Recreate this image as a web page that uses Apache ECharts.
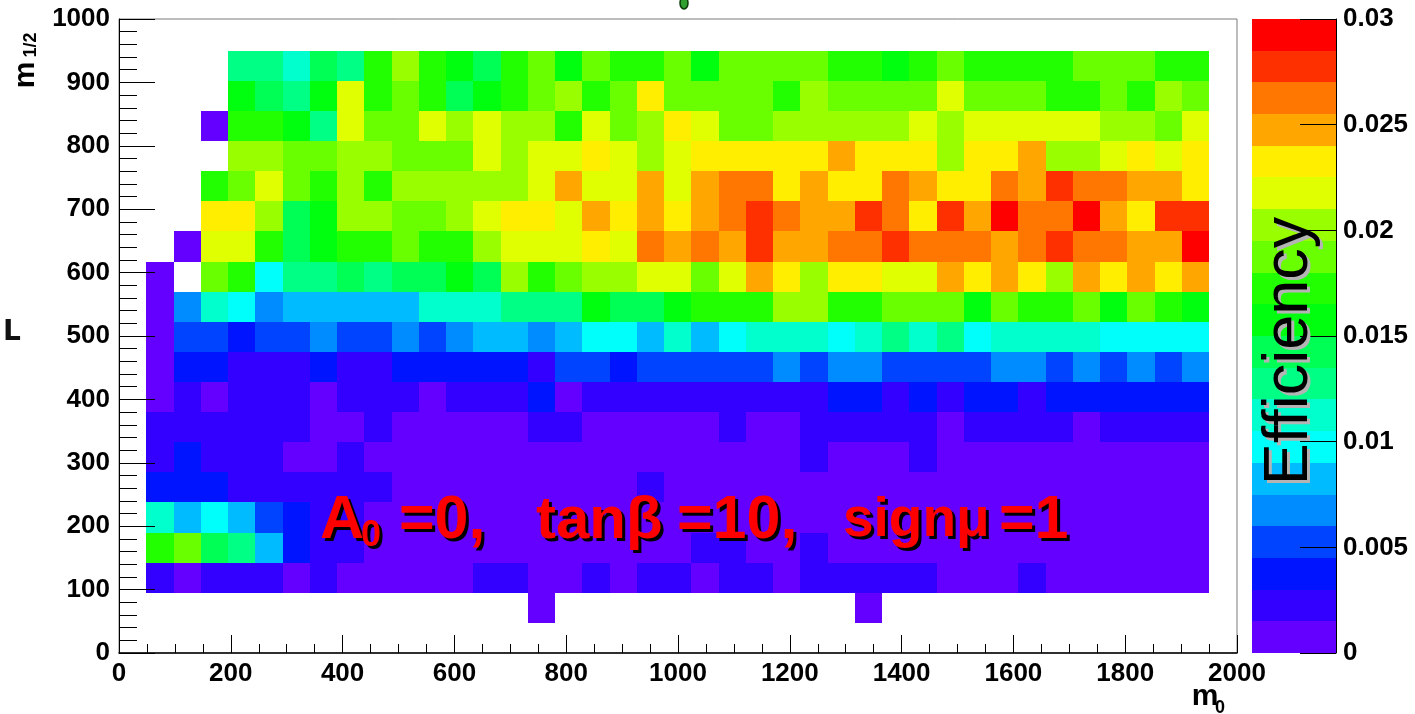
<!DOCTYPE html>
<html>
<head>
<meta charset="utf-8">
<script src="https://cdn.jsdelivr.net/npm/echarts@6/dist/echarts.min.js"></script>
<style>
  html, body { margin: 0; padding: 0; background: #ffffff; }
  #chart { width: 1415px; height: 714px; }
</style>
</head>
<body>
<div id="chart"></div>
<script>
// Histogram binning (GeV): 40 bins in m0 over 0-1950, 20 bins in m1/2 over 0-950
const M0_BIN = 48.75;
const M12_BIN = 47.5;

// Colour scale: 20 contour levels between 0 and 0.03
const Z_MAX = 0.03;
const N_CONTOURS = 20;
const palette = ['#6300ff', '#3300ff', '#0014ff', '#0044ff', '#008bff', '#00bbff', '#00fffb',
  '#00ffcc', '#00ff85', '#00ff55', '#00ff0e', '#22ff00', '#69ff00', '#99ff00', '#e0ff00',
  '#ffee00', '#ffa700', '#ff7700', '#ff3000', '#ff0000'];

// Efficiency in units of 1e-3, one array per m1/2 bin, entries for m0 bins 1..39 (null = empty)
const _ = null;
const eff_r1 = [_,_,_,_,_,_,_,_,_,_, _,_,_,_,0.8,_,_,_,_,_, _,_,_,_,_,_,0.8,_,_,_, _,_,_,_,_,_,_,_,_];
const eff_r2 = [2.3,0.8,2.3, 2.3,2.3,0.8,2.3,0.8,0.8,0.8,0.8,0.8,2.3, 2.3,0.8,0.8,2.3,0.8,2.3,2.3,0.8,2.3,2.3, 0.8,2.3,2.3,2.3,2.3,2.3,0.8,0.8,0.8,2.3, 0.8,0.8,0.8,0.8,0.8,0.8];
const eff_r3 = [17.3,18.8,14.3, 12.8,8.3,3.8,2.3,2.3,0.8,0.8,0.8,0.8,0.8, 0.8,0.8,0.8,0.8,0.8,0.8,0.8,2.3,2.3,0.8, 0.8,2.3,0.8,0.8,0.8,0.8,0.8,0.8,0.8,0.8, 0.8,0.8,0.8,0.8,0.8,0.8];
const eff_r4 = [11.3,8.3,9.8, 8.3,5.3,3.8,2.3,2.3,0.8,0.8,0.8,0.8,0.8, 0.8,0.8,0.8,0.8,0.8,0.8,0.8,0.8,0.8,0.8, 0.8,0.8,0.8,0.8,0.8,0.8,0.8,0.8,0.8,0.8, 0.8,0.8,0.8,0.8,0.8,0.8];
const eff_r5 = [3.8,3.8,3.8, 2.3,2.3,2.3,2.3,2.3,2.3,0.8,0.8,0.8,0.8, 0.8,0.8,0.8,0.8,0.8,2.3,0.8,0.8,0.8,0.8, 0.8,0.8,0.8,0.8,0.8,0.8,0.8,0.8,0.8,0.8, 0.8,0.8,0.8,0.8,0.8,0.8];
const eff_r6 = [2.3,3.8,2.3, 2.3,2.3,0.8,0.8,2.3,0.8,0.8,0.8,0.8,0.8, 0.8,0.8,0.8,0.8,0.8,0.8,0.8,0.8,0.8,0.8, 0.8,2.3,0.8,0.8,0.8,2.3,0.8,0.8,0.8,0.8, 0.8,0.8,0.8,0.8,0.8,0.8];
const eff_r7 = [2.3,2.3,2.3, 2.3,2.3,2.3,0.8,0.8,2.3,0.8,0.8,0.8,0.8, 0.8,2.3,2.3,0.8,0.8,0.8,0.8,0.8,2.3,0.8, 0.8,2.3,2.3,2.3,2.3,2.3,0.8,2.3,2.3,2.3, 2.3,0.8,2.3,2.3,2.3,2.3];
const eff_r8 = [0.8,2.3,0.8, 2.3,2.3,2.3,0.8,2.3,2.3,2.3,0.8,2.3,2.3, 2.3,3.8,0.8,2.3,2.3,2.3,2.3,2.3,2.3,2.3, 2.3,2.3,3.8,3.8,2.3,3.8,2.3,3.8,3.8,2.3, 3.8,3.8,3.8,3.8,3.8,3.8];
const eff_r9 = [0.8,3.8,3.8, 2.3,2.3,2.3,3.8,2.3,2.3,3.8,3.8,3.8,3.8, 3.8,2.3,5.3,5.3,3.8,5.3,5.3,5.3,5.3,5.3, 6.8,5.3,6.8,6.8,5.3,5.3,5.3,5.3,6.8,6.8, 5.3,6.8,5.3,6.8,5.3,6.8];
const eff_r10 = [0.8,5.3,5.3, 3.8,5.3,5.3,6.8,5.3,5.3,6.8,5.3,6.8,8.3, 8.3,6.8,8.3,9.8,9.8,8.3,11.3,8.3,9.8,11.3, 11.3,11.3,9.8,11.3,12.8,11.3,12.8,9.8,11.3,11.3, 11.3,11.3,9.8,9.8,9.8,9.8];
const eff_r11 = [0.8,6.8,11.3, 9.8,6.8,8.3,8.3,8.3,8.3,8.3,11.3,11.3,11.3, 12.8,12.8,12.8,15.8,14.3,14.3,15.8,17.3,17.3,17.3, 20.3,20.3,17.3,17.3,18.8,18.8,18.8,15.8,18.8,17.3, 17.3,18.8,15.8,18.8,17.3,15.8];
const eff_r12 = [0.8,_,18.8, 17.3,9.8,12.8,12.8,14.3,12.8,14.3,14.3,15.8,14.3, 20.3,17.3,18.8,20.3,20.3,21.8,21.8,18.8,21.8,24.8, 23.3,20.3,23.3,23.3,21.8,21.8,24.8,23.3,24.8,23.3, 20.3,24.8,23.3,24.8,23.3,24.8];
const eff_r13 = [_,0.8,21.8, 21.8,17.3,14.3,15.8,17.3,17.3,18.8,17.3,17.3,20.3, 21.8,21.8,21.8,23.3,21.8,26.3,24.8,26.3,24.8,27.8, 24.8,24.8,26.3,26.3,27.8,26.3,26.3,26.3,24.8,26.3, 27.8,26.3,26.3,24.8,24.8,29.3];
const eff_r14 = [_,_,23.3, 23.3,20.3,14.3,15.8,20.3,20.3,18.8,18.8,20.3,21.8, 23.3,23.3,21.8,24.8,23.3,24.8,23.3,24.8,26.3,27.8, 26.3,24.8,24.8,27.8,26.3,23.3,27.8,24.8,29.3,26.3, 26.3,29.3,24.8,23.3,27.8,27.8];
const eff_r15 = [_,_,17.3, 18.8,21.8,18.8,17.3,20.3,17.3,20.3,20.3,20.3,20.3, 20.3,21.8,24.8,21.8,21.8,24.8,21.8,24.8,26.3,26.3, 23.3,24.8,23.3,23.3,26.3,24.8,23.3,23.3,26.3,24.8, 27.8,26.3,26.3,24.8,24.8,23.3];
const eff_r16 = [_,_,_, 20.3,20.3,18.8,18.8,20.3,20.3,18.8,18.8,18.8,21.8, 20.3,21.8,21.8,23.3,21.8,20.3,21.8,23.3,23.3,23.3, 23.3,23.3,24.8,23.3,23.3,23.3,20.3,23.3,23.3,24.8, 20.3,20.3,21.8,23.3,21.8,23.3];
const eff_r17 = [_,_,0.8, 17.3,17.3,15.8,12.8,21.8,18.8,18.8,21.8,20.3,21.8, 20.3,20.3,17.3,21.8,18.8,20.3,23.3,21.8,18.8,18.8, 20.3,20.3,20.3,20.3,20.3,21.8,20.3,21.8,21.8,21.8, 21.8,21.8,20.3,20.3,18.8,21.8];
const eff_r18 = [_,_,_, 15.8,14.3,12.8,15.8,21.8,17.3,18.8,17.3,14.3,15.8, 17.3,18.8,20.3,17.3,18.8,23.3,18.8,18.8,18.8,18.8, 17.3,20.3,18.8,18.8,18.8,18.8,21.8,18.8,18.8,18.8, 17.3,17.3,18.8,17.3,20.3,18.8];
const eff_r19 = [_,_,_, 12.8,12.8,11.3,14.3,12.8,17.3,20.3,17.3,15.8,14.3, 17.3,18.8,15.8,18.8,17.3,17.3,18.8,15.8,18.8,18.8, 18.8,18.8,17.3,17.3,15.8,17.3,18.8,17.3,17.3,17.3, 17.3,18.8,18.8,18.8,17.3,17.3];

const effRows = [eff_r1, eff_r2, eff_r3, eff_r4, eff_r5, eff_r6, eff_r7, eff_r8, eff_r9, eff_r10,
  eff_r11, eff_r12, eff_r13, eff_r14, eff_r15, eff_r16, eff_r17, eff_r18, eff_r19];

// cells: [m0 bin centre, m1/2 bin centre, efficiency]
const cells = [];
effRows.forEach(function (row, i) {
  const iy = i + 1;
  row.forEach(function (v, j) {
    if (v === null) return;
    const ix = j + 1;
    cells.push([(ix + 0.5) * M0_BIN, (iy + 0.5) * M12_BIN, v / 1000]);
  });
});

// colour bar bands: [x, low edge, high edge, palette index]
const bandStep = Z_MAX / N_CONTOURS;
const bands = [];
for (let k = 0; k < N_CONTOURS; k++) bands.push([0.5, k * bandStep, (k + 1) * bandStep, k]);

function colorFor(z) {
  const k = Math.min(N_CONTOURS - 1, Math.max(0, Math.floor(z / bandStep)));
  return palette[k];
}

const LABEL_FONT = { fontFamily: 'Liberation Sans', fontWeight: 'bold', fontSize: 26, color: '#000',
  formatter: function (v) { return String(v); } };

const chart = echarts.init(document.getElementById('chart'));

function shadowed(base, dx, dy, shadowFill, fill) {
  const s = JSON.parse(JSON.stringify(base));
  s.x += dx; s.y += dy; s.style.fill = shadowFill; s.silent = true;
  const t = JSON.parse(JSON.stringify(base));
  t.style.fill = fill; t.silent = true;
  return [s, t];
}

function redText(text, x, y, size) {
  return shadowed({
    type: 'text', x: x, y: y, z: 100,
    style: { text: text, fontFamily: 'Liberation Sans', fontWeight: 'bold', fontSize: size,
      align: 'left', verticalAlign: 'middle' }
  }, 3, 3, '#000000', '#ff0000');
}

const graphics = [].concat(
  redText('A', 320, 521, 61),
  redText('0', 361, 536, 36),
  redText('=0,', 399, 521, 61),
  redText('tan\u03b2', 536, 521, 60),
  redText('=10,', 677, 521, 61),
  redText('sign\u03bc', 843, 521, 55),
  redText('=1', 999, 521, 61),
  shadowed({
    type: 'text', x: 1290, y: 351, rotation: Math.PI / 2, z: 100,
    style: { text: 'Efficiency', fontFamily: 'Liberation Sans', fontSize: 63,
      align: 'center', verticalAlign: 'middle' }
  }, 3, 3, '#b4b4b4', '#000000'),
  [
    { type: 'text', x: 26, y: 75, rotation: Math.PI / 2, z: 100,
      style: { text: 'm', fontFamily: 'Liberation Sans', fontWeight: 'bold', fontSize: 30,
        fill: '#000', align: 'center', verticalAlign: 'middle' } },
    { type: 'text', x: 31, y: 45, rotation: Math.PI / 2, z: 100,
      style: { text: '1/2', fontFamily: 'Liberation Sans', fontWeight: 'bold', fontSize: 18,
        fill: '#000', align: 'center', verticalAlign: 'middle' } },
    { type: 'text', x: 1205, y: 697, z: 100,
      style: { text: 'm', fontFamily: 'Liberation Sans', fontWeight: 'bold', fontSize: 30,
        fill: '#000', align: 'center', verticalAlign: 'middle' } },
    { type: 'text', x: 1220, y: 708, z: 100,
      style: { text: '0', fontFamily: 'Liberation Sans', fontWeight: 'bold', fontSize: 18,
        fill: '#000', align: 'center', verticalAlign: 'middle' } },
    { type: 'text', x: 3, y: 333, z: 100,
      style: { text: 'L', fontFamily: 'DejaVu Sans', fontWeight: 'bold', fontSize: 28, fill: '#111',
        align: 'left', verticalAlign: 'middle' } },
    { type: 'ellipse', z: 100, shape: { cx: 684, cy: 3, rx: 4, ry: 6 },
      style: { fill: '#2fa02f', stroke: '#0b3d0b', lineWidth: 1.5 } }
  ]
);

const option = {
  animation: false,
  backgroundColor: '#ffffff',
  grid: [
    { left: 119, top: 19, width: 1118, height: 634, show: true,
      borderColor: '#7a7a7a', borderWidth: 1, backgroundColor: 'transparent' },
    { left: 1252, top: 19, width: 84, height: 634 }
  ],
  xAxis: [
    { gridIndex: 0, type: 'value', min: 0, max: 2000, interval: 200, z: 10,
      axisLine: { show: true, onZero: false, lineStyle: { color: '#000', width: 1.5 } },
      axisTick: { show: true, inside: true, length: 18, lineStyle: { color: '#000', width: 1 } },
      minorTick: { show: true, splitNumber: 4, length: 9, lineStyle: { color: '#000', width: 1 } },
      splitLine: { show: false },
      axisLabel: Object.assign({ margin: 8 }, LABEL_FONT) },
    { gridIndex: 1, type: 'value', min: 0, max: 1, show: false }
  ],
  yAxis: [
    { gridIndex: 0, type: 'value', min: 0, max: 1000, interval: 100, z: 10,
      axisLine: { show: true, onZero: false, lineStyle: { color: '#000', width: 1 } },
      axisTick: { show: true, inside: true, length: 36, lineStyle: { color: '#000', width: 1 } },
      minorTick: { show: true, splitNumber: 5, length: 18, lineStyle: { color: '#000', width: 1 } },
      splitLine: { show: false },
      axisLabel: Object.assign({ margin: 9 }, LABEL_FONT) },
    { gridIndex: 1, type: 'value', position: 'right', min: 0, max: Z_MAX, interval: 0.005, z: 10,
      axisLine: { show: true, onZero: false, lineStyle: { color: '#000', width: 1 } },
      axisTick: { show: true, inside: true, length: 36, lineStyle: { color: '#000', width: 1 } },
      splitLine: { show: false },
      axisLabel: Object.assign({ margin: 7 }, LABEL_FONT) }
  ],
  series: [
    {
      type: 'custom', xAxisIndex: 0, yAxisIndex: 0, z: 2,
      data: cells,
      encode: { x: 0, y: 1 },
      renderItem: function (params, api) {
        const x = api.value(0), y = api.value(1), z = api.value(2);
        const p0 = api.coord([x - M0_BIN / 2, y + M12_BIN / 2]);
        const p1 = api.coord([x + M0_BIN / 2, y - M12_BIN / 2]);
        const x0 = Math.round(p0[0]), y0 = Math.round(p0[1]);
        const x1 = Math.round(p1[0]), y1 = Math.round(p1[1]);
        return { type: 'rect', shape: { x: x0, y: y0, width: x1 - x0, height: y1 - y0 },
          style: { fill: colorFor(z) } };
      }
    },
    {
      type: 'custom', xAxisIndex: 1, yAxisIndex: 1, z: 2,
      data: bands,
      encode: { x: 0, y: [1, 2] },
      renderItem: function (params, api) {
        const lo = api.value(1), hi = api.value(2), k = api.value(3);
        const p0 = api.coord([0, hi]);
        const p1 = api.coord([1, lo]);
        const x0 = Math.round(p0[0]), y0 = Math.round(p0[1]);
        const x1 = Math.round(p1[0]), y1 = Math.round(p1[1]);
        return { type: 'rect', shape: { x: x0, y: y0, width: x1 - x0, height: y1 - y0 },
          style: { fill: palette[k] } };
      }
    }
  ],
  graphic: graphics
};

chart.setOption(option);
</script>
</body>
</html>
